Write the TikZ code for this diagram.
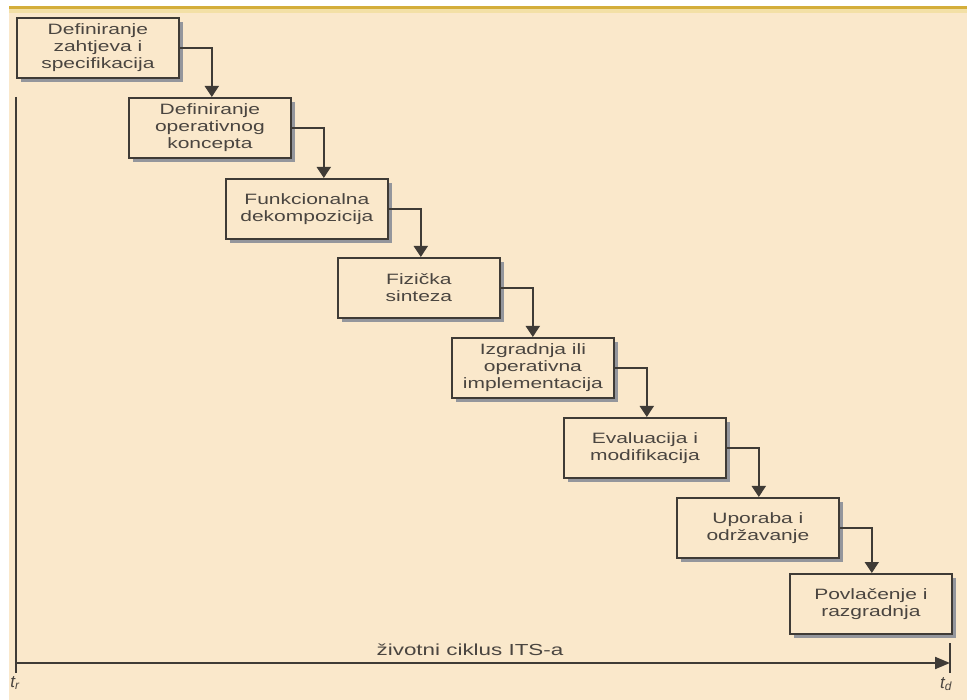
\documentclass[tikz,border=0pt]{standalone}
\usepackage{fontspec}
\setmainfont{Liberation Sans}
\newfontfamily\boxfont[FakeStretch=1.4]{Liberation Sans}
\usetikzlibrary{arrows.meta,shadows,calc}
\definecolor{bgc}{HTML}{FAE8CB}
\definecolor{goldc}{HTML}{D4AE3A}
\definecolor{goldl}{HTML}{F3E0A6}
\definecolor{linec}{HTML}{3F3B36}
\definecolor{txtc}{HTML}{4A4540}
\definecolor{shadowc}{HTML}{94969C}
\tikzset{
  stepbox/.style={draw=linec, line width=1.8pt, fill=bgc, anchor=north west,
    minimum width=162pt, minimum height=60pt, inner sep=0pt, align=center,
    text=txtc, font=\boxfont\fontsize{15}{17}\selectfont,
    general shadow={fill=shadowc, shadow xshift=4.5pt, shadow yshift=-4pt}},
  arr/.style={draw=linec, line width=1.8pt, -{Triangle[width=14pt,length=11pt]}},
  axis/.style={draw=linec, line width=2pt}
}
\begin{document}
\begin{tikzpicture}[x=1pt,y=-1pt]
\useasboundingbox (0,0) rectangle (967,700);
\fill[white] (0,0) rectangle (967,700);
\fill[bgc] (9,7) rectangle (967,700);
\fill[goldl] (9,9) rectangle (967,13);
\fill[goldc] (9,6.5) rectangle (967,9.5);

\node[stepbox] (b1) at (16,17) {Definiranje\\zahtjeva i\\specifikacija};
\node[stepbox] (b2) at (128,97) {Definiranje\\operativnog\\koncepta};
\node[stepbox] (b3) at (225,178) {Funkcionalna\\dekompozicija};
\node[stepbox] (b4) at (337,257) {Fizička\\sinteza};
\node[stepbox] (b5) at (451,337) {Izgradnja ili\\operativna\\implementacija};
\node[stepbox] (b6) at (563,417) {Evaluacija i\\modifikacija};
\node[stepbox] (b7) at (676,497) {Uporaba i\\održavanje};
\node[stepbox] (b8) at (789,573) {Povlačenje i\\razgradnja};

\foreach \a/\b in {b1/b2,b2/b3,b3/b4,b4/b5,b5/b6,b6/b7,b7/b8}{
  \path (\a.east) ++(32,0) coordinate (k\a);
  \draw[arr] (\a.east) -- (k\a) -- (k\a |- \b.north);
}

\coordinate (ytop) at (16,97);
\coordinate (orig) at (16,673);
\coordinate (haxl) at (16,663);
\coordinate (tdtop) at (950,643);
\coordinate (tdbot) at (950,673);
\draw[axis] (ytop) -- (orig);
\draw[axis] (tdtop) -- (tdbot);
\draw[axis, -{Triangle[width=12pt,length=15pt]}] (haxl) -- (haxl -| tdtop);
\node[text=txtc, font=\boxfont\fontsize{16}{18}\selectfont] (lab) at (470,650) {životni ciklus ITS-a};
\node[text=txtc, font=\itshape\fontsize{17}{19}\selectfont] (tr) at (15,683) {t\textsubscript{r}};
\node[text=txtc, font=\itshape\fontsize{17}{19}\selectfont] (td) at (946,684) {t\textsubscript{d}};
\end{tikzpicture}
\end{document}
